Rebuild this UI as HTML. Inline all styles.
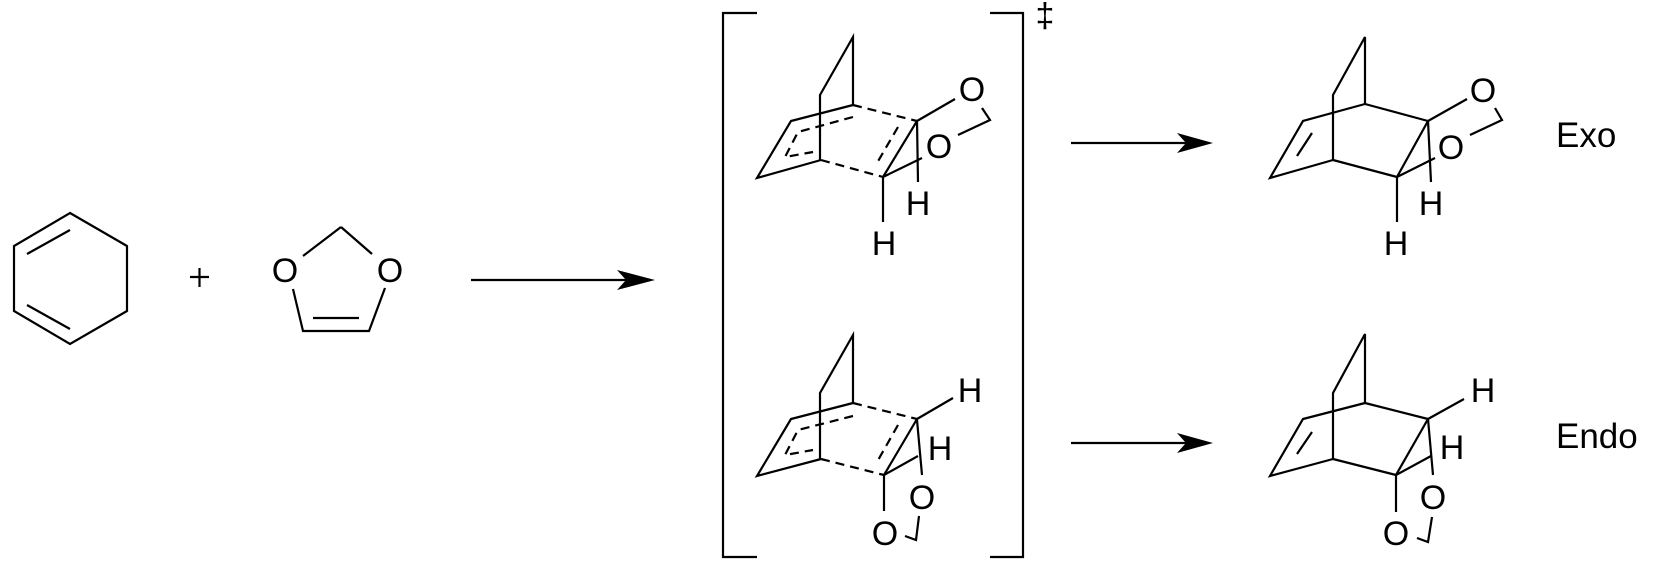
<!DOCTYPE html>
<html><head><meta charset="utf-8"><style>
html,body{margin:0;padding:0;background:#fff;}
svg{display:block;}
text{font-family:"Liberation Sans",Arial,sans-serif;fill:#000;}
</style></head><body>
<svg width="1658" height="572" viewBox="0 0 1658 572" xmlns="http://www.w3.org/2000/svg">
<g stroke="#000" stroke-width="2.2" fill="none" stroke-linejoin="miter">
<!-- cyclohexadiene -->
<polygon points="70,213 127,246 127,311 70,344 14,311 14,246"/>
<line x1="27" y1="254" x2="70" y2="230"/>
<line x1="27" y1="305" x2="70" y2="329"/>
<!-- plus -->
<line x1="190" y1="277" x2="209" y2="277"/>
<line x1="199.5" y1="268" x2="199.5" y2="287"/>
<!-- dioxole -->
<line x1="341" y1="227" x2="303" y2="256"/>
<line x1="341" y1="227" x2="372" y2="254"/>
<polyline points="293,289 303,331 369,331 385,288"/>
<line x1="313" y1="318" x2="359" y2="318"/>
<!-- arrow 1 -->
<line x1="471" y1="280" x2="630" y2="280"/>
<!-- brackets -->
<polyline points="757,13 723,13 723,557 757,557"/>
<polyline points="990,13 1023,13 1023,557 990,557"/>
<!-- arrows 2,3 -->
<line x1="1071" y1="143" x2="1195" y2="143"/>
<line x1="1071" y1="443" x2="1195" y2="443"/>

<!-- TS top -->
<polyline points="853,105 853,37 820,95 820,160"/>
<polyline points="853,105 791,121 757,178 821,160"/>
<polyline points="853,117 798,132 785,157 813,152" stroke-dasharray="9,6"/>
<line x1="853" y1="105" x2="917" y2="121" stroke-dasharray="9,6"/>
<line x1="821" y1="160" x2="883" y2="177" stroke-dasharray="9,6"/>
<line x1="898" y1="127" x2="877" y2="163" stroke-dasharray="9,6"/>
<line x1="917" y1="121" x2="883" y2="177"/>
<line x1="917" y1="121" x2="955" y2="99"/>
<line x1="883" y1="177" x2="922" y2="158"/>
<polyline points="982,108 990,120 958,135"/>
<line x1="917" y1="121" x2="918" y2="182"/>
<line x1="883" y1="177" x2="883" y2="222"/>

<!-- TS bottom -->
<polyline points="853,403 853,335 820,393 820,459"/>
<polyline points="853,403 791,419 757,476 821,459"/>
<polyline points="853,416 798,430 785,455 813,450" stroke-dasharray="9,6"/>
<line x1="853" y1="403" x2="917" y2="419" stroke-dasharray="9,6"/>
<line x1="821" y1="459" x2="884" y2="475" stroke-dasharray="9,6"/>
<line x1="898" y1="425" x2="877" y2="462" stroke-dasharray="9,6"/>
<line x1="917" y1="419" x2="884" y2="475"/>
<line x1="917" y1="419" x2="953" y2="398"/>
<line x1="917" y1="420" x2="922" y2="475"/>
<line x1="884" y1="475" x2="918" y2="456"/>
<line x1="884" y1="475" x2="884" y2="511"/>
<polyline points="919,516 916,540 905,536"/>

<!-- Exo product -->
<polyline points="1365,104 1365,37 1333,95 1333,160"/>
<polyline points="1365,104 1303,121 1270,178 1333,160"/>
<line x1="1312" y1="133" x2="1297" y2="156"/>
<line x1="1365" y1="104" x2="1428" y2="121"/>
<line x1="1333" y1="160" x2="1397" y2="177"/>
<line x1="1428" y1="121" x2="1397" y2="177"/>
<line x1="1428" y1="121" x2="1467" y2="99"/>
<line x1="1397" y1="177" x2="1435" y2="158"/>
<polyline points="1495,108 1502,120 1470,135"/>
<line x1="1428" y1="121" x2="1431" y2="182"/>
<line x1="1397" y1="177" x2="1397" y2="222"/>

<!-- Endo product -->
<polyline points="1365,403 1365,334 1333,393 1333,459"/>
<polyline points="1365,403 1303,419 1270,476 1333,459"/>
<line x1="1312" y1="432" x2="1297" y2="454"/>
<line x1="1365" y1="403" x2="1428" y2="419"/>
<line x1="1333" y1="459" x2="1396" y2="475"/>
<line x1="1428" y1="419" x2="1396" y2="475"/>
<line x1="1428" y1="419" x2="1464" y2="399"/>
<line x1="1428" y1="419" x2="1433" y2="475"/>
<line x1="1396" y1="475" x2="1431" y2="456"/>
<line x1="1396" y1="475" x2="1396" y2="512"/>
<polyline points="1432,517 1428,542 1417,538"/>
</g>
<!-- arrowheads -->
<g fill="#000">
<polygon points="655,280 617,270 626,280 617,290"/>
<polygon points="1213,143 1177,133 1186,143 1177,153"/>
<polygon points="1213,443 1177,433 1186,443 1177,453"/>
</g>
<g font-size="34" text-anchor="middle">
<text x="285" y="282">O</text>
<text x="390" y="282">O</text>
<!-- TS top -->
<text x="972" y="101">O</text>
<text x="939" y="158">O</text>
<text x="918" y="215">H</text>
<text x="884" y="255">H</text>
<!-- TS bottom -->
<text x="970" y="402">H</text>
<text x="940" y="460">H</text>
<text x="922" y="509">O</text>
<text x="885" y="545">O</text>
<!-- Exo -->
<text x="1483" y="102">O</text>
<text x="1451" y="159">O</text>
<text x="1431" y="215">H</text>
<text x="1396" y="255">H</text>
<!-- Endo -->
<text x="1483" y="402">H</text>
<text x="1452" y="459">H</text>
<text x="1433" y="509">O</text>
<text x="1396" y="545">O</text>
<text x="1045" y="27">‡</text>
</g>
<g font-size="35">
<text x="1556" y="147">Exo</text>
<text x="1556" y="448">Endo</text>
</g>
</svg>
</body></html>
